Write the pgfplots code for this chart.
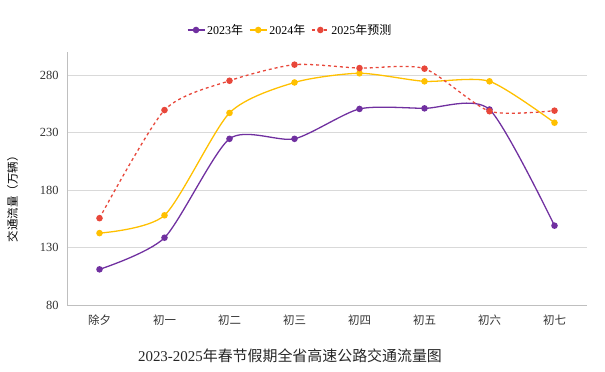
\documentclass[border=0pt]{standalone}
\usepackage{pgfplots}
\pgfplotsset{compat=1.18}
\usepackage{fontspec}
\setmainfont{Liberation Serif}
\newfontfamily\cjk{Noto Sans CJK SC}
\definecolor{c23}{HTML}{7030A0}
\definecolor{c24}{HTML}{FFC000}
\definecolor{c25}{HTML}{E8473A}
\definecolor{gridc}{HTML}{D9D9D9}
\definecolor{axc}{HTML}{BFBFBF}
\begin{document}
\begin{tikzpicture}
\useasboundingbox (-67bp,-67bp) rectangle (538bp,305bp);
\begin{axis}[
  scale only axis,
  width=520bp, height=253bp,
  xmin=-0.5, xmax=7.5,
  ymin=80, ymax=300,
  xtick={0,...,7},
  xticklabels={{\cjk 除夕},{\cjk 初一},{\cjk 初二},{\cjk 初三},{\cjk 初四},{\cjk 初五},{\cjk 初六},{\cjk 初七}},
  ytick={80,130,180,230,280},
  /pgf/number format/assume math mode=true,
  tick label style={text=black!80},
  xticklabel style={font=\fontsize{11.5}{13}\selectfont, yshift=-6bp},
  yticklabel style={font=\fontsize{12.5}{14}\selectfont, xshift=-5bp},
  ymajorgrids,
  grid style={gridc, line width=0.8pt},
  axis x line*=bottom,
  axis y line*=left,
  axis line style={axc, line width=0.8pt, -},
  major tick length=0pt,
  ylabel={\cjk 交通流量（万辆）},
  ylabel style={font=\fontsize{11.5}{13}\selectfont, at={(axis description cs:-0.105,0.43)}, anchor=center},
  legend columns=3,
  legend style={draw=none, fill=none, font=\fontsize{12}{14}\selectfont,
    at={(axis description cs:0.429,1.087)}, anchor=center,
    /tikz/every even column/.append style={column sep=4bp}},
  legend cell align=left,
  every axis plot/.append style={line width=1.3pt, mark=*, mark size=2.6pt, smooth, tension=0.42},
]
\addplot[c23, mark options={fill=c23, solid}] coordinates {
(0,111) (1,138.5) (2,224.5) (3,224.5) (4,250.5) (5,251) (6,250) (7,149)};
\addlegendentry{2023{\cjk 年}}
\addplot[c24, mark options={fill=c24, solid}] coordinates {
(0,142.5) (1,158) (2,247) (3,273.5) (4,281.5) (5,274.5) (6,274.5) (7,238.5)};
\addlegendentry{2024{\cjk 年}}
\addplot[c25, dashed, mark options={fill=c25, solid}] coordinates {
(0,155.5) (1,249.5) (2,275) (3,289) (4,286) (5,285.5) (6,248.5) (7,249)};
\addlegendentry{2025{\cjk 年预测}}
\end{axis}
\node[font=\fontsize{15}{17}\selectfont, text=black!85] at (223bp,-51bp) {2023-2025{\cjk 年春节假期全省高速公路交通流量图}};
\end{tikzpicture}
\end{document}
